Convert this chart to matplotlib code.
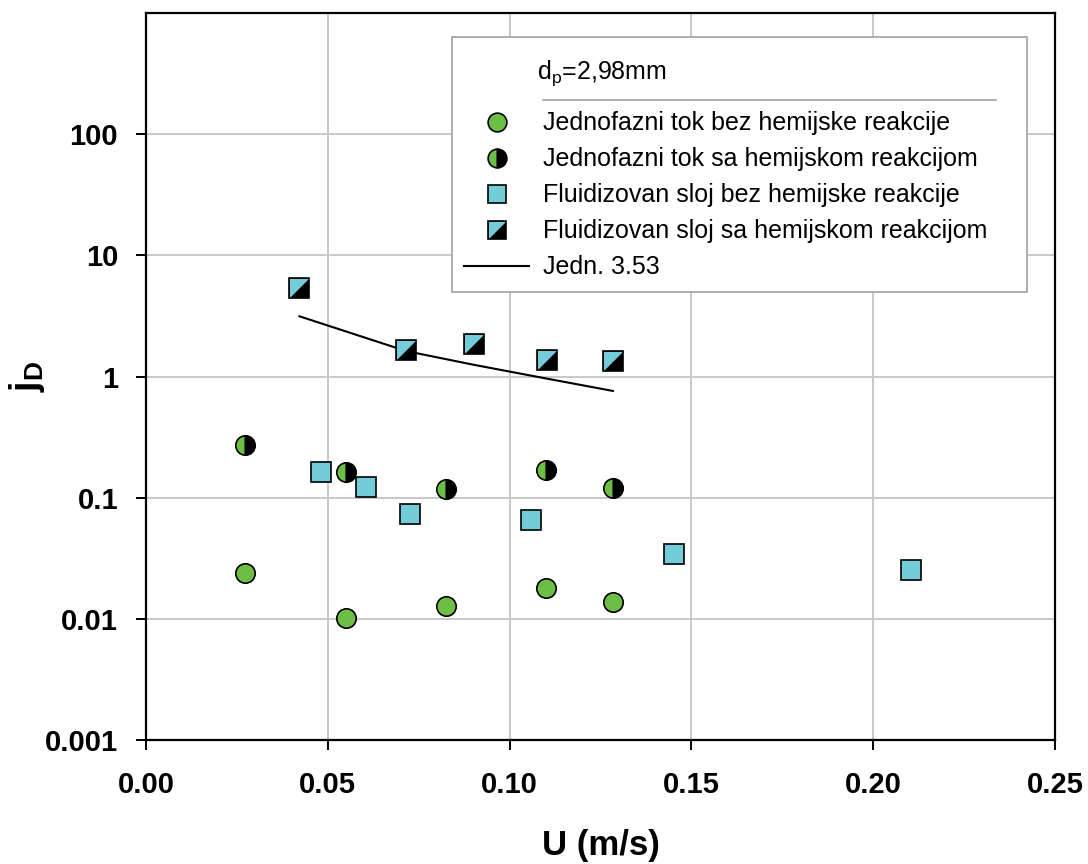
import matplotlib
matplotlib.use("Agg")
import matplotlib.pyplot as plt
from matplotlib.lines import Line2D
from matplotlib.path import Path
from matplotlib.legend_handler import HandlerTuple

plt.rcParams['font.family'] = ['Liberation Sans', 'DejaVu Sans']
plt.rcParams['mathtext.fontset'] = 'custom'
plt.rcParams['mathtext.rm'] = 'Liberation Sans'
plt.rcParams['mathtext.bf'] = 'Liberation Sans:bold'

# Single-phase flow, without chemical reaction
u_single = [0.0272, 0.0549, 0.0824, 0.1101, 0.1284]
jd_single_nr = [0.0241, 0.0101, 0.0127, 0.0181, 0.0139]
# Single-phase flow, with chemical reaction
jd_single_r = [0.271, 0.164, 0.117, 0.170, 0.121]
# Fluidized bed, without chemical reaction
u_fluid_nr = [0.0482, 0.0604, 0.0726, 0.1059, 0.1452, 0.2105]
jd_fluid_nr = [0.164, 0.123, 0.0735, 0.0650, 0.0342, 0.0255]
# Fluidized bed, with chemical reaction
u_fluid_r = [0.0422, 0.0716, 0.0901, 0.1103, 0.1284]
jd_fluid_r = [5.40, 1.64, 1.85, 1.38, 1.34]
# Correlation, Eq. 3.53
u_eq = [0.0422, 0.0716, 0.0901, 0.1103, 0.1284]
jd_eq = [3.14, 1.62, 1.25, 0.96, 0.76]

x_ticks = [0.00, 0.05, 0.10, 0.15, 0.20, 0.25]
x_ticklabels = ['0.00', '0.05', '0.10', '0.15', '0.20', '0.25']
y_ticks = [0.001, 0.01, 0.1, 1, 10, 100]
y_ticklabels = ['0.001', '0.01', '0.1', '1', '10', '100']

labels = ['Jednofazni tok bez hemijske reakcije',
          'Jednofazni tok sa hemijskom reakcijom',
          'Fluidizovan sloj bez hemijske reakcije',
          'Fluidizovan sloj sa hemijskom reakcijom',
          'Jedn. 3.53']

GREEN = '#6CBE45'
CYAN = '#72CDD8'
MS = 14
MEW = 1.2

fig = plt.figure(figsize=(10.88, 8.64), dpi=100)
ax = fig.add_axes([146 / 1088, 124 / 864, 909 / 1088, 727 / 864])
ax.set_yscale('log')
ax.set_xlim(0, 0.25)
ax.set_ylim(0.001, 1000)

ax.grid(True, which='major', color='#C8C8C8', linewidth=1.4)
ax.set_axisbelow(True)
for s in ax.spines.values():
    s.set_linewidth(1.6)
    s.set_color('black')

ax.set_xticks(x_ticks)
ax.set_xticklabels(x_ticklabels)
ax.set_yticks(y_ticks)
ax.set_yticklabels(y_ticklabels)
ax.yaxis.set_minor_locator(matplotlib.ticker.NullLocator())
ax.tick_params(axis='both', direction='out', length=7, width=1.4,
               labelsize=21)
ax.tick_params(axis='x', pad=15)
ax.tick_params(axis='y', pad=13)
for lab in ax.get_xticklabels() + ax.get_yticklabels():
    lab.set_fontweight('bold')

# Correlation line
ax.plot(u_eq, jd_eq, color='black', linewidth=1.5, zorder=3)

# Single phase, no reaction: full green circles
ax.plot(u_single, jd_single_nr, linestyle='none', marker='o', ms=MS,
        mfc=GREEN, mec='black', mew=MEW, zorder=4)
# Single phase, with reaction: half green / half black circles
ax.plot(u_single, jd_single_r, linestyle='none', marker='o', ms=MS,
        fillstyle='left', mfc=GREEN, mfcalt='black', mec='black',
        mew=MEW, zorder=4)
# Fluidized bed, no reaction: cyan squares
ax.plot(u_fluid_nr, jd_fluid_nr, linestyle='none', marker='s', ms=MS,
        mfc=CYAN, mec='black', mew=MEW, zorder=4)

# Fluidized bed, with reaction: square split along the diagonal
tri = Path([(-1, 1), (1, 1), (-1, -1), (-1, 1)],
           [Path.MOVETO, Path.LINETO, Path.LINETO, Path.CLOSEPOLY])
sq_kw = dict(linestyle='none', ms=MS, zorder=4)
ax.plot(u_fluid_r, jd_fluid_r, marker='s', mfc='black', mec='black',
        mew=0, **sq_kw)
ax.plot(u_fluid_r, jd_fluid_r, marker=tri, mfc=CYAN, mec='none',
        mew=0, **sq_kw)
ax.plot(u_fluid_r, jd_fluid_r, marker='s', mfc='none', mec='black',
        mew=MEW, **sq_kw)

ax.set_xlabel('U (m/s)', fontsize=25, fontweight='bold', labelpad=22)
ax.set_ylabel(r'$\mathbf{j}_{\mathbf{D}}$', fontsize=27)
ax.yaxis.set_label_coords(-0.109, 0.5)

# Legend handles
LMS = MS - 0.5
h_circ = Line2D([], [], linestyle='none', marker='o', ms=LMS, mfc=GREEN,
                mec='black', mew=MEW)
h_half = Line2D([], [], linestyle='none', marker='o', ms=LMS,
                fillstyle='left', mfc=GREEN, mfcalt='black', mec='black',
                mew=MEW)
h_sq = Line2D([], [], linestyle='none', marker='s', ms=LMS - 1, mfc=CYAN,
              mec='black', mew=MEW)
h_sq_r = (Line2D([], [], linestyle='none', marker='s', ms=LMS - 1,
                 mfc='black', mec='black', mew=0),
          Line2D([], [], linestyle='none', marker=tri, ms=LMS - 1,
                 mfc=CYAN, mec='none', mew=0),
          Line2D([], [], linestyle='none', marker='s', ms=LMS - 1,
                 mfc='none', mec='black', mew=MEW))
h_line = Line2D([], [], color='black', linewidth=1.5)

leg = ax.legend([h_circ, h_half, h_sq, h_sq_r, h_line], labels,
                handler_map={tuple: HandlerTuple(ndivide=1, pad=0)},
                loc='upper left', mode='expand',
                bbox_to_anchor=(0.3366, 0.0, 0.6326, 0.967),
                fontsize=18, title=' ', title_fontsize=38.5,
                frameon=True, fancybox=False, edgecolor='#A0A0A0',
                framealpha=1, borderpad=0.5, labelspacing=0.48,
                handlelength=2.6, handletextpad=0.56, borderaxespad=0)
leg.get_frame().set_linewidth(1.2)
leg.set_zorder(5)

# Legend heading and separator, placed relative to the legend frame
fig.canvas.draw()
bb = leg.get_window_extent().transformed(ax.transAxes.inverted())
ax.text(0.430, bb.y1 - 36 / 727, r'd$_\mathregular{p}$=2,98mm',
        transform=ax.transAxes, fontsize=18, va='center', ha='left',
        zorder=6)
ax.add_line(Line2D([0.437, 0.935], [bb.y1 - 63 / 727] * 2,
                   transform=ax.transAxes, color='#A0A0A0', linewidth=1.2,
                   zorder=6))

fig.savefig('out.png', dpi=100)
